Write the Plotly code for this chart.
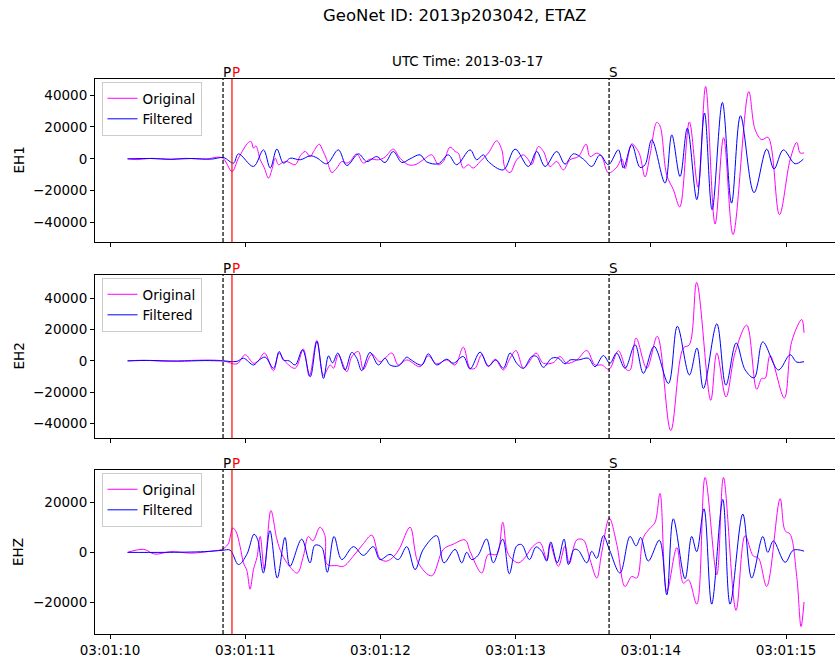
import plotly.graph_objects as go

# ---------------- data (seconds after 03:01:10 UTC, counts) ----------------
tick_seconds = [0, 1, 2, 3, 4, 5]
tick_labels = ["03:01:10", "03:01:11", "03:01:12", "03:01:13", "03:01:14", "03:01:15"]
channels = ["EH1", "EH2", "EHZ"]

p_theory = 0.836   # dashed black P
p_pick = 0.902     # red picked P
s_theory = 3.691   # dashed black S

eh1_t_orig = [0.13, 0.20, 0.30, 0.45, 0.55, 0.70, 0.83, 0.902, 0.950, 1.024,
              1.044, 1.061, 1.079, 1.111, 1.141, 1.172, 1.197, 1.222, 1.246, 1.272,
              1.308, 1.370, 1.407, 1.444, 1.481, 1.506, 1.547, 1.572, 1.603, 1.641,
              1.677, 1.714, 1.751, 1.775, 1.825, 1.874, 1.923, 1.985, 2.034, 2.095,
              2.145, 2.206, 2.256, 2.317, 2.379, 2.428, 2.465, 2.515, 2.552, 2.576,
              2.613, 2.650, 2.687, 2.737, 2.798, 2.860, 2.898, 2.922, 2.959, 3.008,
              3.057, 3.094, 3.119, 3.168, 3.206, 3.254, 3.304, 3.353, 3.402, 3.464,
              3.521, 3.550, 3.600, 3.637, 3.686, 3.748, 3.785, 3.809, 3.859, 3.896,
              3.920, 3.957, 3.994, 4.044, 4.068, 4.118, 4.167, 4.214, 4.285, 4.349,
              4.405, 4.475, 4.538, 4.608, 4.724, 4.771, 4.820, 4.867, 4.951, 5.030,
              5.079, 5.104, 5.133]
eh1_v_orig = [0, -500, 300, -300, 300, -200, 600, -7900, 400, 10300,
              10800, 6700, 8100, -600, -5600, -12100, -6900, 400, -3700, -2500,
              -1700, -3700, 1900, 4600, 1400, 4600, 9200, 5600, -600, -8600,
              -5800, -1700, -2700, -1700, 3100, -2700, -200, -600, 1100, 6100,
              400, -3700, -3700, -600, 2500, -3700, -1700, 7300, 4600, 3600,
              -5800, -3700, -5800, -1700, 3600, 11300, 5600, -5800, -8600, -600,
              2500, -600, -3700, 7700, 4600, -4800, -1700, -6900, -600, 1400,
              9200, 1400, 3600, 1400, -8800, -5200, 0, -6200, 9400, 6200,
              2100, -11400, 2500, 22900, 20600, -10400, -19400, -30200, 23100, -17800,
              45400, -40900, 13300, -47500, 42100, 18400, 12000, 13500, -35000, -600,
              10300, 3700, 3700]
eh1_t_filt = [0.13, 0.30, 0.45, 0.60, 0.75, 0.84, 0.913, 0.950, 1.061, 1.135,
              1.185, 1.234, 1.283, 1.333, 1.407, 1.481, 1.530, 1.603, 1.689, 1.751,
              1.837, 1.899, 1.973, 2.034, 2.095, 2.158, 2.219, 2.293, 2.342, 2.428,
              2.502, 2.564, 2.663, 2.712, 2.761, 2.798, 2.909, 2.996, 3.094, 3.156,
              3.218, 3.304, 3.365, 3.427, 3.501, 3.563, 3.624, 3.686, 3.760, 3.797,
              3.859, 3.920, 3.957, 4.007, 4.105, 4.155, 4.216, 4.270, 4.340, 4.397,
              4.453, 4.529, 4.597, 4.663, 4.763, 4.857, 4.911, 4.980, 5.067, 5.128]
eh1_v_filt = [0, 200, -300, 200, -200, 800, -2700, 3100, -4800, 5600,
              -5800, 6100, -2700, 400, -600, 1900, 600, -3100, 5600, -4200,
              3100, -1700, 1400, -2300, 4600, -2300, 0, 2500, -1900, -3100,
              2500, -3700, 5600, -600, 2500, -1700, -6900, 6100, -4800, 4600,
              -4800, 4600, -3300, 3100, -200, -4800, 2500, -3700, 5600, -5800,
              8800, -5400, -3700, 11900, -15200, 15000, -11100, 19200, -25600, 28700,
              -31900, 35400, -27800, 27000, -21200, 6100, -6400, 5600, -3100, -200]

eh2_t_orig = [0.13, 0.25, 0.40, 0.60, 0.75, 0.84, 0.939, 1.000, 1.061, 1.096,
              1.143, 1.209, 1.251, 1.296, 1.370, 1.430, 1.474, 1.530, 1.579, 1.629,
              1.653, 1.689, 1.751, 1.788, 1.837, 1.874, 1.936, 1.997, 2.084, 2.132,
              2.195, 2.293, 2.354, 2.416, 2.490, 2.552, 2.613, 2.663, 2.700, 2.749,
              2.798, 2.848, 2.909, 2.959, 3.003, 3.057, 3.094, 3.151, 3.205, 3.279,
              3.328, 3.378, 3.452, 3.526, 3.587, 3.637, 3.691, 3.760, 3.822, 3.847,
              3.891, 3.970, 4.048, 4.147, 4.240, 4.285, 4.339, 4.443, 4.488, 4.556,
              4.623, 4.709, 4.783, 4.820, 4.845, 4.882, 4.987, 5.042, 5.116, 5.133]
eh2_v_orig = [0, 400, -200, 300, 500, 0, -1900, 3900, -1500, 0,
              5000, -6300, 5000, -500, -4700, 7500, -9700, 13100, -9000, -2600,
              -4700, 3900, -6900, 2600, 6000, -5400, 4300, -600, 5000, -2600,
              600, -3700, 3200, -1900, 600, -2600, 8800, -4700, -4700, 3900,
              -3700, 1100, -5800, 1700, 6600, -4700, -1500, 5000, -1500, -1100,
              2800, -1500, 600, 6600, -2600, -2600, -5400, 6500, -5800, -5800,
              14600, -4700, 15700, -44500, 8200, 10300, 50100, -25200, 5000, -23000,
              5200, 22800, -18100, -11200, -11200, 3400, -23700, 12400, 26400, 17900]
eh2_t_filt = [0.13, 0.30, 0.50, 0.70, 0.83, 0.939, 0.987, 1.061, 1.104, 1.148,
              1.209, 1.251, 1.283, 1.325, 1.370, 1.424, 1.481, 1.530, 1.579, 1.616,
              1.646, 1.685, 1.738, 1.788, 1.825, 1.862, 1.923, 1.985, 2.034, 2.071,
              2.132, 2.195, 2.219, 2.306, 2.354, 2.416, 2.490, 2.539, 2.613, 2.663,
              2.737, 2.798, 2.855, 2.909, 2.959, 3.008, 3.057, 3.119, 3.156, 3.205,
              3.267, 3.316, 3.365, 3.402, 3.464, 3.538, 3.587, 3.649, 3.698, 3.747,
              3.809, 3.883, 3.945, 4.024, 4.130, 4.196, 4.285, 4.341, 4.389, 4.488,
              4.555, 4.631, 4.698, 4.764, 4.828, 4.943, 5.030, 5.079, 5.133]
eh2_v_filt = [0, 300, -200, 200, 0, -300, 1700, -2600, 600, 2400,
              -4700, 6000, 500, 0, -2600, 7100, -10100, 12400, -11200, 3200,
              -1300, 5000, -5800, 5400, 1700, -6300, 5400, -2600, 1700, -2600,
              -3200, 2400, 1100, -2600, 4500, -2600, 1100, -1500, 2800, -5200,
              5600, -3200, 600, -4700, 5000, -1500, -4700, 2800, 2800, -4100,
              1700, 1700, -1900, 600, 600, 1700, -3700, 3400, -1500, 5000,
              -4700, 10300, -7900, 9200, -14400, 22100, -9000, 8200, -17600, 23700,
              -15500, 11400, -5800, -10800, 12100, -5800, 3900, -800, -500]

ehz_t_orig = [0.13, 0.25, 0.33, 0.45, 0.60, 0.75, 0.828, 0.873, 0.908, 0.933,
              0.962, 0.987, 1.012, 1.036, 1.061, 1.087, 1.111, 1.141, 1.190, 1.234,
              1.272, 1.328, 1.385, 1.430, 1.467, 1.500, 1.553, 1.590, 1.607, 1.677,
              1.726, 1.800, 1.874, 1.936, 1.997, 2.047, 2.101, 2.145, 2.219, 2.280,
              2.379, 2.465, 2.539, 2.626, 2.663, 2.749, 2.798, 2.860, 2.905, 2.946,
              3.020, 3.070, 3.126, 3.180, 3.230, 3.254, 3.316, 3.365, 3.397, 3.452,
              3.501, 3.550, 3.600, 3.637, 3.693, 3.748, 3.809, 3.858, 3.896, 3.945,
              3.989, 4.031, 4.068, 4.118, 4.192, 4.241, 4.278, 4.340, 4.401, 4.488,
              4.537, 4.630, 4.697, 4.758, 4.795, 4.857, 4.956, 4.993, 5.030, 5.079,
              5.111, 5.133]
ehz_v_orig = [0, 1200, -700, 300, -300, 500, 1200, 3300, 9800, 8200,
              2400, -4200, -7300, -14800, -6900, -2000, 6400, -6900, 16800, 5300,
              -800, -5600, -8300, -1500, 6400, 4600, 10100, 6700, -4900, -5300,
              -5600, -1500, 3500, 6900, -2600, -3500, -1500, 2000, 10100, -4200,
              -9400, 1200, 3300, 5000, 400, -8300, -800, -800, 12100, -800,
              -4200, -2000, 2300, 4000, -2900, 3300, -5600, 2600, -4500, 5000,
              5000, -2900, -10300, 0, 13700, 3300, -13700, -9700, -10300, 6000,
              9400, 12100, 23700, -15800, 1900, -12400, -11000, -20800, 30100, -9000,
              30100, -23300, 6700, -1500, -2200, -13700, 21600, 8700, 7300, -9700,
              -29800, -19900]
ehz_t_filt = [0.13, 0.40, 0.70, 0.83, 0.888, 0.950, 1.012, 1.065, 1.091, 1.134,
              1.183, 1.237, 1.294, 1.331, 1.418, 1.479, 1.516, 1.566, 1.607, 1.657,
              1.714, 1.800, 1.874, 1.947, 1.997, 2.071, 2.132, 2.195, 2.256, 2.317,
              2.416, 2.470, 2.552, 2.601, 2.638, 2.675, 2.722, 2.785, 2.835, 2.905,
              2.953, 3.008, 3.045, 3.102, 3.151, 3.193, 3.230, 3.260, 3.308, 3.358,
              3.390, 3.432, 3.464, 3.526, 3.563, 3.600, 3.649, 3.693, 3.772, 3.846,
              3.891, 3.925, 3.981, 4.063, 4.118, 4.166, 4.253, 4.302, 4.339, 4.393,
              4.450, 4.532, 4.586, 4.680, 4.746, 4.828, 4.865, 4.906, 4.993, 5.054,
              5.133]
ehz_v_filt = [0, 0, 300, 800, 900, -4900, -800, 7300, 5300, -8300,
              8700, -10300, 6000, -5600, 5300, -4200, 2900, 2000, -8000, 6400,
              -2900, 2300, -1200, 2300, -2900, -800, -2900, 2300, -6900, 1200,
              6700, -4200, 1200, -4200, 0, -2900, -1200, 5400, -4200, 5300,
              -8600, 2600, 3100, -2900, 2200, 400, -3500, 4200, -4200, 5300,
              -4900, 1200, 800, -4200, 400, -2400, 6700, 1200, -8300, 6400,
              2600, 6000, -3500, 4900, -17100, 13500, -10600, 6400, 300, 17500,
              -20800, 21300, -20800, 15400, -10300, 6400, 0, 4600, -4000, 900,
              500]

# ---------------- figure ----------------
FONT = "DejaVu Sans"
W, H = 835, 659
ML, MR, MT, MB = 95, 0, 79, 25
plot_h = H - MT - MB
plot_w = W - ML - MR


def ypaper(py):
    return (H - MB - py) / plot_h


domains = [
    [ypaper(242), ypaper(79)],
    [ypaper(438), ypaper(275)],
    [ypaper(634), ypaper(470)],
]
legend_tops = [ypaper(82), ypaper(278), ypaper(473)]
x_range = [-0.111, 5.362]

series = [
    (eh1_t_orig, eh1_v_orig, eh1_t_filt, eh1_v_filt),
    (eh2_t_orig, eh2_v_orig, eh2_t_filt, eh2_v_filt),
    (ehz_t_orig, ehz_v_orig, ehz_t_filt, ehz_v_filt),
]
for a, b, c, d in series:
    if len(a) != len(b) or len(c) != len(d):
        raise ValueError("length mismatch %d %d %d %d" % (len(a), len(b), len(c), len(d)))

fig = go.Figure()
layout = dict(
    width=W, height=H, autosize=False,
    margin=dict(l=ML, r=MR, t=MT, b=MB, pad=0),
    paper_bgcolor="white", plot_bgcolor="white",
    font=dict(family=FONT, size=13.5, color="black"),
    shapes=[], annotations=[],
)

for i, (to, vo, tf, vf) in enumerate(series):
    n = "" if i == 0 else str(i + 1)
    xa, ya = "x" + n, "y" + n
    leg = "legend" + n
    fig.add_trace(go.Scatter(
        x=to, y=vo, mode="lines", name="Original", xaxis=xa, yaxis=ya, legend=leg,
        line=dict(color="#ff00ff", width=1, shape="spline", smoothing=1.0),
        hoverinfo="skip"))
    fig.add_trace(go.Scatter(
        x=tf, y=vf, mode="lines", name="Filtered", xaxis=xa, yaxis=ya, legend=leg,
        line=dict(color="#0000ff", width=1, shape="spline", smoothing=1.0),
        hoverinfo="skip"))

    vmin = min(min(vo), min(vf))
    vmax = max(max(vo), max(vf))
    span = vmax - vmin
    yrange = [vmin - 0.05 * span, vmax + 0.05 * span]

    layout["xaxis" + n] = dict(
        domain=[0, 1], anchor=ya, range=x_range, showgrid=False, zeroline=False,
        showline=True, linecolor="black", linewidth=1, mirror=True,
        ticks="outside", ticklen=4, tickwidth=1, tickcolor="black",
        tickvals=tick_seconds, ticktext=tick_labels,
        showticklabels=(i == 2), tickfont=dict(size=13.5, family=FONT),
        **({} if i == 0 else {"matches": "x"}))
    layout["yaxis" + n] = dict(
        domain=domains[i], anchor=xa, range=yrange, showgrid=False, zeroline=False,
        showline=True, linecolor="black", linewidth=1, mirror=False,
        ticks="outside", ticklen=4, tickwidth=1, tickcolor="black",
        dtick=20000, tick0=0, tickformat="d", tickfont=dict(size=13.5, family=FONT))
    layout[leg] = dict(
        x=(101.5 - ML) / plot_w, y=legend_tops[i], xanchor="left", yanchor="top",
        xref="paper", yref="paper",
        bgcolor="rgba(255,255,255,0.8)", bordercolor="#cccccc", borderwidth=1,
        font=dict(size=13.5, family=FONT), tracegroupgap=0, itemwidth=30)

    yd = ya + " domain"
    layout["shapes"] += [
        dict(type="line", xref=xa, yref=yd, x0=p_theory, x1=p_theory, y0=0, y1=1,
             line=dict(color="black", width=1.2, dash="4px,2px")),
        dict(type="line", xref=xa, yref=yd, x0=p_pick, x1=p_pick, y0=0, y1=1,
             line=dict(color="red", width=1.2)),
        dict(type="line", xref=xa, yref=yd, x0=s_theory, x1=s_theory, y0=0, y1=1,
             line=dict(color="black", width=1.2, dash="4px,2px")),
    ]
    for xpos, txt, col in [(p_theory, "P", "black"), (p_pick, "P", "red"), (s_theory, "S", "black")]:
        layout["annotations"].append(dict(
            x=xpos, y=1, xref=xa, yref=yd, text=txt, showarrow=False,
            xanchor="left", yanchor="bottom", xshift=-2, yshift=-3,
            font=dict(size=13.5, color=col, family=FONT)))
    layout["annotations"].append(dict(
        x=(18 - ML) / plot_w, y=0.5, xref="paper", yref=yd, text=channels[i],
        textangle=-90, showarrow=False, xanchor="center", yanchor="middle",
        font=dict(size=13.5, family=FONT)))

layout["annotations"] += [
    dict(x=(454 - ML) / plot_w, y=ypaper(15), xref="paper", yref="paper",
         text="GeoNet ID: 2013p203042, ETAZ", showarrow=False,
         xanchor="center", yanchor="middle", font=dict(size=16.5, family=FONT)),
    dict(x=(467 - ML) / plot_w, y=ypaper(61), xref="paper", yref="paper",
         text="UTC Time: 2013-03-17", showarrow=False,
         xanchor="center", yanchor="middle", font=dict(size=13.5, family=FONT)),
]

fig.update_layout(**layout)
fig.write_html("out.html")
